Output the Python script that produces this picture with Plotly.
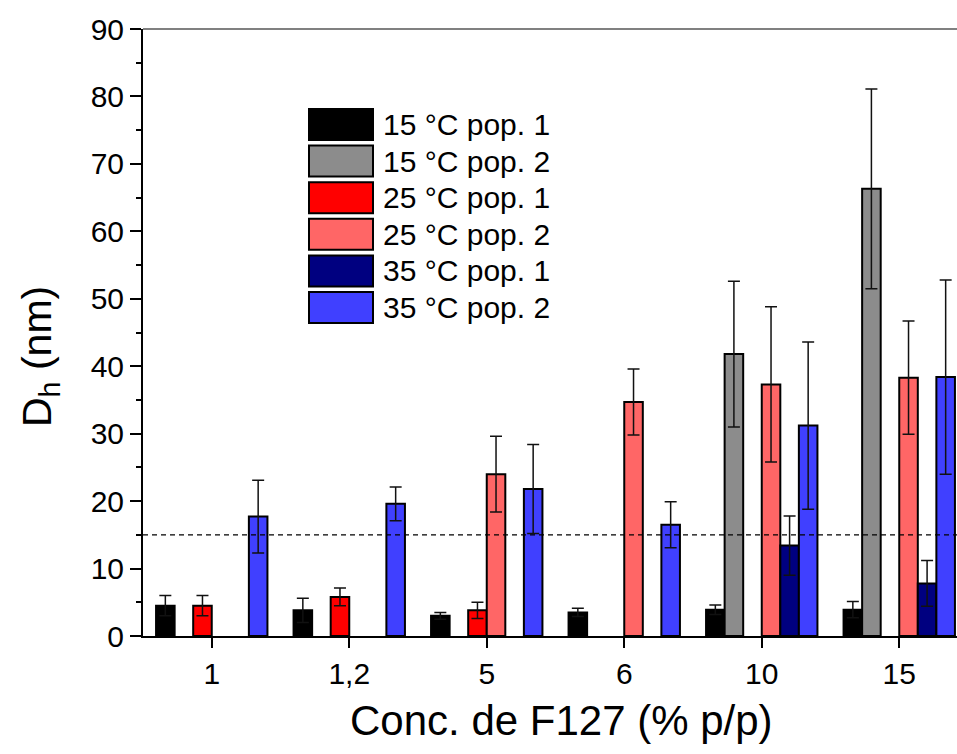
import plotly.graph_objects as go

categories = ["1", "1,2", "5", "6", "10", "15"]

series_names = ["15 °C pop. 1", "15 °C pop. 2", "25 °C pop. 1",
                "25 °C pop. 2", "35 °C pop. 1", "35 °C pop. 2"]

t15_pop1 = [4.5, 3.8, 3.0, 3.5, 3.9, 3.9]
t15_pop1_err = [1.5, 1.8, 0.5, 0.6, 0.7, 1.2]
t15_pop2 = [None, None, None, None, 41.8, 66.3]
t15_pop2_err = [None, None, None, None, 10.8, 14.8]
t25_pop1 = [4.5, 5.8, 3.8, None, None, None]
t25_pop1_err = [1.5, 1.3, 1.2, None, None, None]
t25_pop2 = [None, None, 24.0, 34.7, 37.3, 38.3]
t25_pop2_err = [None, None, 5.6, 4.9, 11.5, 8.4]
t35_pop1 = [None, None, None, None, 13.4, 7.8]
t35_pop1_err = [None, None, None, None, 4.4, 3.4]
t35_pop2 = [17.7, 19.6, 21.8, 16.5, 31.2, 38.4]
t35_pop2_err = [5.4, 2.5, 6.6, 3.4, 12.4, 14.4]

threshold = 15

colors = ["#000000", "#8c8c8c", "#ff0000", "#ff6666", "#000080", "#4040ff"]

values = [t15_pop1, t15_pop2, t25_pop1, t25_pop2, t35_pop1, t35_pop2]
errors = [t15_pop1_err, t15_pop2_err, t25_pop1_err, t25_pop2_err,
          t35_pop1_err, t35_pop2_err]

FONT = "Liberation Sans, Arial, sans-serif"

fig = go.Figure()
for name, vals, errs, col in zip(series_names, values, errors, colors):
    fig.add_trace(go.Bar(
        x=categories, y=vals, name=name,
        marker=dict(color=col, line=dict(color="#000000", width=2)),
        error_y=dict(type="data", array=errs, visible=True,
                     color="#111111", thickness=1.5, width=6),
        showlegend=False,
    ))

# dashed reference line
fig.add_shape(type="line", xref="paper", x0=0, x1=1, yref="y",
              y0=threshold, y1=threshold,
              line=dict(color="#000000", width=1.2, dash="5px,4px"),
              layer="above")
# top frame line
fig.add_shape(type="line", xref="paper", x0=0, x1=1, yref="paper",
              y0=1, y1=1, line=dict(color="#808080", width=2))

# plot area 143..957 x 29..636 in page pixels (body margin removed below)
W, H = 957, 754
ml, mr, mt, mb = 143, 0, 29, 754 - 636
pw, ph = W - ml - mr, H - mt - mb

def px_to_paper(x, y):
    return (x - ml) / pw, 1 - (y - mt) / ph

row_top = 109
row_pitch = 36.6
for i, (name, col) in enumerate(zip(series_names, colors)):
    y0 = row_top + i * row_pitch
    y1 = y0 + 31
    ax0, ay0 = px_to_paper(309, y0)
    ax1, ay1 = px_to_paper(373, y1)
    fig.add_shape(type="rect", xref="paper", yref="paper",
                  x0=ax0, x1=ax1, y0=ay1, y1=ay0,
                  fillcolor=col, line=dict(color="#000000", width=2))
    tx, ty = px_to_paper(381, (y0 + y1) / 2)
    fig.add_annotation(xref="paper", yref="paper", x=tx, y=ty,
                       text=name, showarrow=False, xanchor="left",
                       yanchor="middle",
                       font=dict(family=FONT, size=30, color="#000000"))

# axis titles (placed as in the reference)
xt, yt = px_to_paper(561, 720)
fig.add_annotation(xref="paper", yref="paper", x=xt, y=yt,
                   text="Conc. de F127 (% p/p)", showarrow=False,
                   xanchor="center", yanchor="middle",
                   font=dict(family=FONT, size=42, color="#000000"))
xt, yt = px_to_paper(40, 357)
fig.add_annotation(xref="paper", yref="paper", x=xt, y=yt,
                   text="D<sub>h</sub> (nm)", showarrow=False, textangle=-90,
                   xanchor="center", yanchor="middle",
                   font=dict(family=FONT, size=41, color="#000000"))

fig.update_layout(
    width=W, height=H,
    margin=dict(l=ml, r=mr, t=mt, b=mb),
    paper_bgcolor="white", plot_bgcolor="white",
    barmode="group", bargap=0.19, bargroupgap=0,
    font=dict(family=FONT, color="#000000"),
    xaxis=dict(
        type="category", range=[-0.5, 5.42],
        showline=True, linecolor="#000000", linewidth=2,
        ticks="outside", ticklen=10, tickwidth=2, tickcolor="#000000",
        tickfont=dict(family=FONT, size=30),
        showgrid=False, zeroline=False,
    ),
    yaxis=dict(
        range=[0, 90], dtick=10,
        showline=True, linecolor="#000000", linewidth=2,
        ticks="outside", ticklen=11, tickwidth=2, tickcolor="#000000",
        minor=dict(ticks="outside", ticklen=5, tickwidth=2,
                   tickcolor="#000000", dtick=5, showgrid=False),
        tickfont=dict(family=FONT, size=30),
        showgrid=False, zeroline=False,
    ),
)

fig.write_html(
    "out.html",
    config={"displayModeBar": False},
    post_script="document.body.style.margin='0';"
                "document.body.style.overflow='hidden';",
)
